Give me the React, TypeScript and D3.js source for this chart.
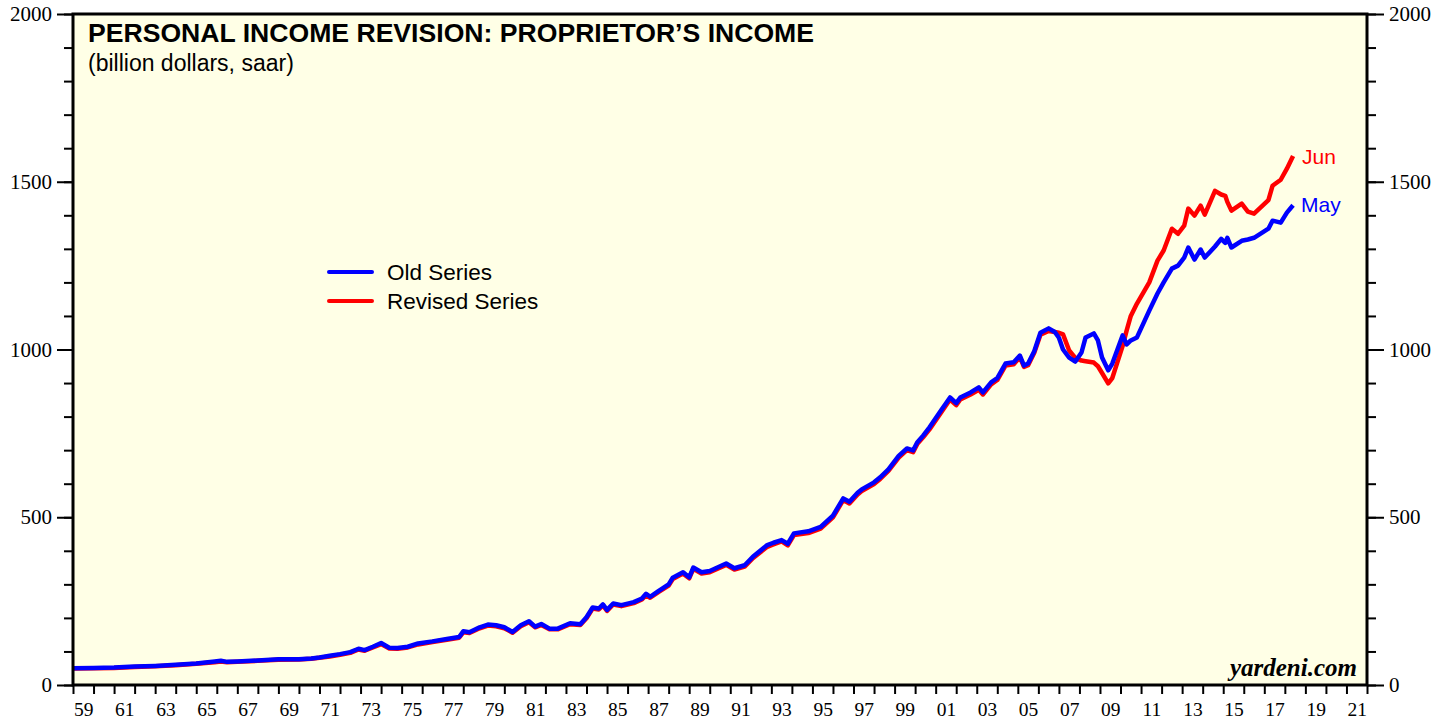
import React, { useEffect, useRef } from "react";
import * as d3 from "d3";

// decimal years of the sampled points
const dates = [
  1959.0, 1960.0, 1961.0, 1962.0, 1963.0, 1964.0, 1965.0, 1965.9, 1966.2, 1966.5,
  1967.0, 1968.0, 1969.0, 1970.0, 1970.6, 1971.0, 1971.5, 1972.0, 1972.5, 1972.9,
  1973.2, 1973.6, 1974.0, 1974.4, 1974.8, 1975.3, 1975.8, 1976.5, 1977.2, 1977.8,
  1978.0, 1978.3, 1978.8, 1979.2, 1979.6, 1980.0, 1980.4, 1980.8, 1981.2, 1981.5,
  1981.8, 1982.2, 1982.6, 1983.2, 1983.7, 1984.0, 1984.3, 1984.6, 1984.8, 1985.0,
  1985.3, 1985.7, 1986.3, 1986.7, 1986.9, 1987.1, 1987.5, 1988.0, 1988.2, 1988.7,
  1989.0, 1989.2, 1989.6, 1990.0, 1990.8, 1991.2, 1991.7, 1992.1, 1992.8, 1993.1,
  1993.5, 1993.8, 1994.1, 1994.8, 1995.4, 1996.0, 1996.5, 1996.8, 1997.2, 1997.4,
  1998.0, 1998.3, 1998.7, 1999.2, 1999.6, 1999.9, 2000.1, 2000.4, 2000.7, 2001.3,
  2001.7, 2002.0, 2002.2, 2002.7, 2003.1, 2003.3, 2003.7, 2004.0, 2004.4, 2004.8,
  2005.1, 2005.3, 2005.5, 2005.8, 2006.1, 2006.5, 2006.8, 2007.0, 2007.2, 2007.5,
  2007.8, 2008.1, 2008.3, 2008.7, 2008.9, 2009.1, 2009.4, 2009.6, 2010.1, 2010.3,
  2010.5, 2010.8, 2011.4, 2011.8, 2012.1, 2012.5, 2012.8, 2013.1, 2013.3, 2013.6,
  2013.9, 2014.1, 2014.6, 2014.9, 2015.1, 2015.2, 2015.4, 2015.9, 2016.2, 2016.5,
  2017.2, 2017.4, 2017.8, 2018.1, 2018.4,
];

// May release (billion dollars, saar)
const oldSeries = [
  50, 51, 52, 55, 57, 60, 64, 70, 72, 69,
  70, 73, 77, 77, 79, 82, 87, 92, 98, 108,
  104, 114, 125, 111, 110, 114, 124, 130, 137, 143,
  160, 157, 172, 180, 178, 172, 158, 178, 190, 174,
  182, 168, 168, 184, 181, 202, 231, 228, 240, 224,
  243, 238, 247, 258, 272, 263, 280, 300, 320, 336,
  321, 350, 336, 340, 362, 348, 357, 382, 417, 424,
  432, 421, 452, 458, 471, 505, 556, 546, 573, 583,
  604, 619, 643, 683, 705, 699, 723, 744, 768, 822,
  857, 840, 857, 872, 887, 872, 902, 915, 958, 962,
  982, 952, 958, 995, 1050, 1063, 1052, 1035, 1000, 976,
  964, 991, 1036, 1048, 1027, 976, 938, 958, 1042, 1015,
  1027, 1036, 1116, 1167, 1200, 1241, 1250, 1274, 1304, 1268,
  1298, 1274, 1307, 1330, 1318, 1333, 1304, 1324, 1328, 1333,
  1360, 1384, 1378, 1408, 1430,
];

// June release (billion dollars, saar)
const revisedSeries = [
  49, 50, 51, 54, 56, 59, 63, 68, 70, 68,
  69, 72, 75, 76, 78, 81, 85, 90, 96, 106,
  102, 112, 122, 109, 108, 112, 121, 128, 135, 141,
  157, 155, 169, 177, 175, 169, 156, 175, 187, 172,
  179, 166, 166, 181, 179, 199, 228, 225, 237, 221,
  240, 235, 244, 255, 268, 260, 277, 296, 316, 332,
  318, 346, 332, 336, 358, 344, 353, 378, 412, 419,
  428, 416, 447, 453, 466, 500, 551, 541, 568, 578,
  599, 614, 638, 678, 700, 694, 718, 739, 762, 815,
  851, 834, 851, 866, 880, 866, 896, 909, 952, 956,
  977, 948, 953, 990, 1044, 1055, 1052, 1050, 1045, 997,
  975, 967, 965, 961, 950, 930, 899, 915, 1010, 1057,
  1100, 1137, 1200, 1265, 1295, 1360, 1345, 1369, 1420, 1399,
  1429, 1402, 1473, 1462, 1458, 1440, 1414, 1435, 1411, 1405,
  1445, 1488, 1506, 1539, 1577,
];

const yMajorTicks = [0, 500, 1000, 1500, 2000];
const yMinorTicks = d3.range(0, 2001, 100);
const xYearTicks = d3.range(1959, 2023, 1);
const xLabelYears = d3.range(1959, 2022, 2);

const title = "PERSONAL INCOME REVISION: PROPRIETOR\u2019S INCOME";
const subtitle = "(billion dollars, saar)";

export default function App() {
  const ref = useRef<SVGSVGElement>(null);

  useEffect(() => {
    const width = 1450, height = 719;
    const left = 73, right = 1367, top = 14, bottom = 685;

    const svg = d3.select(ref.current);
    svg.selectAll("*").remove();

    const x = d3.scaleLinear().domain([1959, 2022]).range([left, right]);
    const y = d3.scaleLinear().domain([0, 2000]).range([bottom, top]);

    svg.append("rect")
      .attr("width", width).attr("height", height).attr("fill", "#ffffff");

    svg.append("rect")
      .attr("x", left).attr("y", top)
      .attr("width", right - left).attr("height", bottom - top)
      .attr("fill", "#ffffe6");

    const serif = "'Liberation Serif', 'Times New Roman', serif";
    const sans = "'Liberation Sans', Arial, Helvetica, sans-serif";

    // left axis
    svg.append("g")
      .attr("transform", `translate(${left},0)`)
      .call(d3.axisLeft(y).tickValues(yMinorTicks).tickSize(9).tickFormat(() => ""));
    svg.append("g").attr("class", "ylab")
      .attr("transform", `translate(${left},0)`)
      .call(d3.axisLeft(y).tickValues(yMajorTicks).tickSize(16).tickPadding(5).tickFormat(d3.format("d")));

    // right axis
    svg.append("g")
      .attr("transform", `translate(${right},0)`)
      .call(d3.axisRight(y).tickValues(yMinorTicks).tickSize(9).tickFormat(() => ""));
    svg.append("g").attr("class", "ylab")
      .attr("transform", `translate(${right},0)`)
      .call(d3.axisRight(y).tickValues(yMajorTicks).tickSize(17).tickPadding(5).tickFormat(d3.format("d")));

    // bottom axis: yearly ticks, labels centred in the year
    svg.append("g")
      .attr("transform", `translate(0,${bottom})`)
      .call(d3.axisBottom(x).tickValues(xYearTicks).tickSize(9).tickFormat(() => ""));
    svg.append("g").attr("class", "xlab")
      .attr("transform", `translate(0,${bottom})`)
      .call(d3.axisBottom(x).tickValues(xLabelYears.map(d => d + 0.5)).tickSize(0).tickPadding(17)
        .tickFormat(d => String(Math.floor(+d) % 100).padStart(2, "0")));

    svg.selectAll(".domain").remove();
    svg.selectAll(".tick line").attr("stroke", "#000").attr("stroke-width", 2);
    svg.selectAll(".tick text")
      .attr("fill", "#000")
      .style("font-family", serif)
      .style("font-size", "19.5px");
    svg.selectAll(".ylab .tick text").style("font-size", "21px");

    // series
    const line = d3.line<number>()
      .x((d, i) => x(dates[i]))
      .y(d => y(d));

    svg.append("path")
      .datum(revisedSeries)
      .attr("d", line)
      .attr("fill", "none")
      .attr("stroke", "#ff0000")
      .attr("stroke-width", 4.5)
      .attr("stroke-linejoin", "round");

    svg.append("path")
      .datum(oldSeries)
      .attr("d", line)
      .attr("fill", "none")
      .attr("stroke", "#0000ff")
      .attr("stroke-width", 4.5)
      .attr("stroke-linejoin", "round");

    // frame
    svg.append("rect")
      .attr("x", left).attr("y", top)
      .attr("width", right - left).attr("height", bottom - top)
      .attr("fill", "none").attr("stroke", "#000").attr("stroke-width", 3);

    // titles
    svg.append("text")
      .attr("x", 88).attr("y", 42)
      .style("font-family", sans).style("font-weight", "bold").style("font-size", "26.6px")
      .text(title);
    svg.append("text")
      .attr("x", 88).attr("y", 71)
      .style("font-family", sans).style("font-size", "23px")
      .text(subtitle);

    // legend
    const legend = [
      { label: "Old Series", color: "#0000ff", yy: 272 },
      { label: "Revised Series", color: "#ff0000", yy: 301 },
    ];
    legend.forEach(l => {
      svg.append("line")
        .attr("x1", 329).attr("x2", 372).attr("y1", l.yy).attr("y2", l.yy)
        .attr("stroke", l.color).attr("stroke-width", 4).attr("stroke-linecap", "round");
      svg.append("text")
        .attr("x", 387).attr("y", l.yy + 8)
        .style("font-family", sans).style("font-size", "22.5px")
        .text(l.label);
    });

    // end labels
    const last = dates.length - 1;
    svg.append("text")
      .attr("x", x(dates[last]) + 9).attr("y", y(revisedSeries[last]) + 8)
      .attr("fill", "#ff0000")
      .style("font-family", sans).style("font-size", "21px")
      .text("Jun");
    svg.append("text")
      .attr("x", x(dates[last]) + 8).attr("y", y(oldSeries[last]) + 7)
      .attr("fill", "#0000ff")
      .style("font-family", sans).style("font-size", "21px")
      .text("May");

    svg.append("text")
      .attr("x", 1357).attr("y", 676)
      .attr("text-anchor", "end")
      .style("font-family", serif).style("font-weight", "bold").style("font-style", "italic")
      .style("font-size", "25px")
      .text("yardeni.com");
  }, []);

  return (
    <svg ref={ref} width={1450} height={719}
      style={{ position: "absolute", left: 0, top: 0, display: "block" }} />
  );
}
